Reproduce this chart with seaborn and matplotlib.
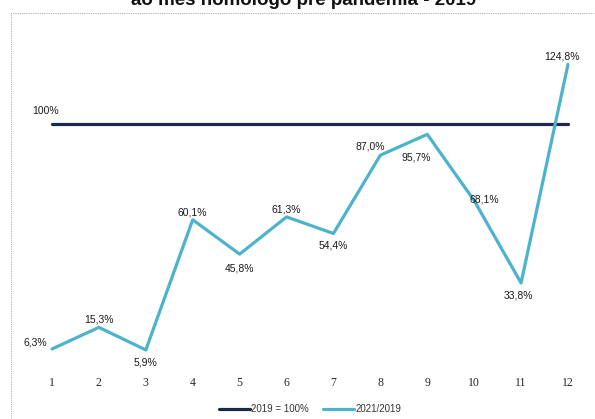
import pandas as pd
import matplotlib.pyplot as plt
import matplotlib.patches as mpatches
import seaborn as sns

# monthly ratio 2021 vs same month 2019 (%)
months = list(range(1, 13))
ratio_2021 = [6.3, 15.3, 5.9, 60.1, 45.8, 61.3, 54.4, 87.0, 95.7, 68.1, 33.8, 124.8]
base_2019 = [100] * 12
point_labels = ["6,3%", "15,3%", "5,9%", "60,1%", "45,8%", "61,3%",
                "54,4%", "87,0%", "95,7%", "68,1%", "33,8%", "124,8%"]

df = pd.DataFrame({
    "mes": months * 2,
    "valor": base_2019 + ratio_2021,
    "serie": ["2019 = 100%"] * 12 + ["2021/2019"] * 12,
})

sns.set_style("white")
plt.rcParams["font.family"] = ["Liberation Sans", "DejaVu Sans"]

fig = plt.figure(figsize=(5.95, 4.19), dpi=100)
ax = fig.add_axes([0.048, 0.131, 0.946, 0.745])

sns.lineplot(data=df, x="mes", y="valor", hue="serie",
             palette={"2019 = 100%": "#1b2a4a", "2021/2019": "#4db3cc"},
             linewidth=2.3, ax=ax, legend=True)

ax.set_xlim(0.5, 12.5)
ax.set_ylim(0, 130)
ax.set_xticks(months)
ax.set_xticklabels([str(m) for m in months], family="Liberation Serif", fontsize=8.5)
ax.set_yticks([])
ax.tick_params(axis="x", length=0, pad=9)
ax.set_xlabel("")
ax.set_ylabel("")
for s in ax.spines.values():
    s.set_visible(False)

# data labels: offsets in points
offsets = [(-12, 5), (0, 6), (0, -9), (0, 5), (0, -10), (0, 5),
           (0, -9), (-7, 6), (-8, -17), (7, 1), (-2, -9), (-4, 6)]
for m, v, lab, off in zip(months, ratio_2021, point_labels, offsets):
    ax.annotate(lab, (m, v), xytext=off, textcoords="offset points",
                ha="center", va="center", fontsize=7.5, color="#1a1a1a")
ax.annotate("100%", (1, 100), xytext=(-5, 9), textcoords="offset points",
            ha="center", va="center", fontsize=7.5, color="#1a1a1a")

leg = ax.legend(loc="upper center", bbox_to_anchor=(0.5, -0.1), ncol=2,
                frameon=False, fontsize=7, handlelength=3.2, columnspacing=1.5,
                handletextpad=0.1)
for line in leg.get_lines():
    line.set_linewidth(2.3)
for t in leg.get_texts():
    t.set_color("#333333")

# chart frame
fig.patches.append(mpatches.Rectangle((11 / 595, -0.05), 1.0, (419 - 13) / 419 + 0.05,
                                      transform=fig.transFigure, fill=False,
                                      edgecolor="#b0b0b0", linewidth=0.8,
                                      linestyle=(0, (1, 1))))

# title, mostly cropped at the top edge as in the source image
fig.text(0.51, 1 - 5 / 419, "ao mês homólogo pré pandemia - 2019",
         ha="center", va="baseline", fontsize=13.5, fontweight="bold",
         family=["Liberation Sans", "DejaVu Sans"], color="#111111")

fig.savefig("out.png", dpi=100)
